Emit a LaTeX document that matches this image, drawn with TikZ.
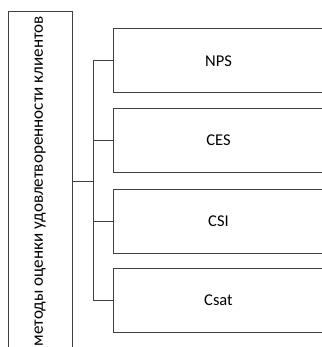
\documentclass[tikz,border=0pt]{standalone}
\usepackage{fontspec}
\setmainfont{Carlito}

\begin{document}
\begin{tikzpicture}[x=1pt,y=1pt,yscale=-1,xscale=1,
  box/.style={draw=black!75,line width=1pt,inner sep=0pt,font=\fontsize{16.5}{20}\selectfont},
  link/.style={draw=black!75,line width=1pt}]
\useasboundingbox (0,0) rectangle (321,347);

% Left box
\node [box,rotate=90,minimum width=338,minimum height=64,font=\fontsize{17.1}{21}\selectfont] (methods) at (40,181) {методы оценки удовлетворенности клиентов};

% Right boxes
\node [box,minimum width=210,minimum height=64,anchor=west] (nps) at (113,61) {NPS};
\node [box,minimum width=210,minimum height=64,anchor=west] (ces) at (113,140.5) {CES};
\node [box,minimum width=210,minimum height=64,anchor=west] (csi) at (113,221) {CSI};
\node [box,minimum width=210,minimum height=64,anchor=west] (csat) at (113,300.5) {Csat};

% Connectors
\coordinate (fork) at (93,181);
\draw [link] (methods.south |- fork) -- (fork);
\draw [link] (nps.west -| fork) -- (csat.west -| fork);
\draw [link] (nps.west -| fork) -- (nps.west);
\draw [link] (ces.west -| fork) -- (ces.west);
\draw [link] (csi.west -| fork) -- (csi.west);
\draw [link] (csat.west -| fork) -- (csat.west);

\end{tikzpicture}
\end{document}
